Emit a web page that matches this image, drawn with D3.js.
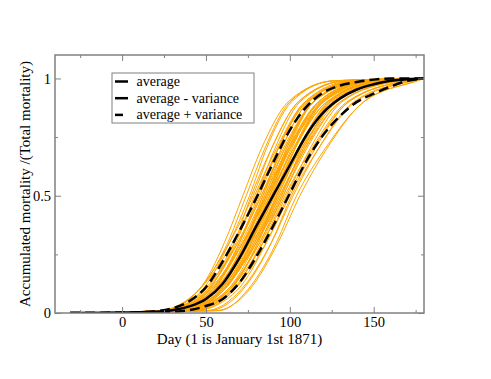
<!DOCTYPE html>
<html>
<head>
<meta charset="utf-8">
<script src="https://cdnjs.cloudflare.com/ajax/libs/d3/7.8.5/d3.min.js"></script>
<style>
  body { margin: 0; background: #fff; }
  svg text { font-family: "Liberation Serif", "Times New Roman", serif; fill: #000; }
  .tick line { stroke: #808080; stroke-width: 1; }
</style>
</head>
<body>
<script>
// ---- data ----
// black curves: value at each day
const days        = [-31, 0, 20, 30, 40, 50, 60, 70, 80, 90, 100, 110, 120, 130, 140, 150, 160, 170, 180];
const average     = [0, 0.001, 0.005, 0.012, 0.028, 0.06, 0.125, 0.235, 0.37, 0.5, 0.63, 0.76, 0.855, 0.915, 0.953, 0.975, 0.99, 0.997, 1];
const avgPlusVar  = [0, 0.001, 0.008, 0.02, 0.05, 0.11, 0.22, 0.35, 0.49, 0.64, 0.78, 0.88, 0.94, 0.97, 0.985, 0.995, 1, 1, 1];
const avgMinusVar = [0, 0, 0.002, 0.005, 0.012, 0.03, 0.06, 0.13, 0.24, 0.37, 0.51, 0.65, 0.76, 0.84, 0.9, 0.935, 0.965, 0.99, 1];

// orange runs: day at which each run reaches the given level
const runLevels = [0, 0.01, 0.1, 0.3, 0.5, 0.7, 0.9, 0.99, 1];
const runStart = -31, runEnd = 180;
const runs = [
  [24, 46, 61, 72, 83, 99, 126],
  [24, 46, 63, 74, 85, 100, 126],
  [27, 48, 64, 76, 86, 101, 126],
  [32, 52, 67, 77, 89, 105, 133],
  [24, 46, 64, 78, 89, 105, 132],
  [29, 51, 68, 79, 92, 109, 139],
  [25, 50, 67, 80, 91, 106, 133],
  [22, 46, 66, 80, 93, 110, 141],
  [33, 55, 70, 81, 93, 110, 140],
  [26, 51, 69, 82, 93, 109, 136],
  [31, 54, 70, 83, 96, 114, 145],
  [24, 49, 69, 83, 95, 111, 139],
  [34, 56, 73, 84, 97, 114, 144],
  [28, 53, 71, 84, 95, 111, 138],
  [29, 54, 72, 85, 97, 114, 143],
  [37, 59, 74, 85, 99, 118, 150],
  [27, 53, 72, 86, 98, 114, 142],
  [34, 57, 73, 86, 99, 117, 148],
  [31, 56, 73, 86, 100, 120, 154],
  [32, 57, 74, 87, 98, 114, 141],
  [26, 52, 72, 87, 100, 119, 151],
  [38, 60, 77, 88, 100, 117, 146],
  [32, 57, 75, 88, 102, 122, 156],
  [29, 55, 74, 88, 99, 114, 140],
  [34, 59, 76, 89, 102, 119, 149],
  [28, 55, 75, 89, 101, 117, 145],
  [38, 61, 77, 90, 103, 122, 154],
  [31, 57, 76, 90, 103, 120, 150],
  [34, 59, 77, 90, 105, 126, 160],
  [36, 61, 78, 91, 105, 124, 157],
  [27, 56, 76, 91, 103, 120, 149],
  [36, 61, 79, 92, 105, 123, 154],
  [42, 64, 81, 92, 107, 127, 162],
  [31, 58, 78, 92, 103, 119, 146],
  [34, 60, 79, 93, 106, 125, 157],
  [38, 63, 80, 93, 106, 123, 153],
  [33, 60, 80, 94, 108, 127, 160],
  [42, 65, 81, 94, 109, 130, 166],
  [39, 64, 82, 95, 108, 126, 157],
  [31, 60, 80, 95, 107, 124, 152],
  [37, 63, 82, 96, 110, 130, 164],
  [44, 67, 83, 96, 109, 128, 160],
  [41, 66, 84, 97, 113, 134, 170],
  [37, 64, 84, 98, 112, 131, 164],
  [44, 69, 86, 99, 114, 135, 170],
  [41, 67, 86, 100, 115, 135, 170],
  [52, 72, 89, 101, 117, 139, 174],
  [50, 71, 89, 102, 117, 138, 173],
  [58, 75, 92, 104, 121, 144, 176],
  [56, 76, 93, 106, 122, 144, 176]
];

const xMajor = [0, 50, 100, 150];
const xMinor = [-25, 25, 75, 125, 175];
const yMajor = [0, 0.5, 1];
const yMinor = [0.25, 0.75];
const legendLabels = ['average', 'average - variance', 'average + variance'];

// ---- layout ----
const W = 491, H = 379;
const margin = { top: 55, right: 67, bottom: 66, left: 55 };
const iw = W - margin.left - margin.right;
const ih = H - margin.top - margin.bottom;
const serif = '"Liberation Serif", "Times New Roman", serif';

const svg = d3.select('body').append('svg')
    .attr('width', W)
    .attr('height', H);

const g = svg.append('g')
    .attr('transform', `translate(${margin.left},${margin.top})`);

const x = d3.scaleLinear().domain([-40, 180]).range([0, iw]);
const y = d3.scaleLinear().domain([0, 1.1]).range([ih, 0]);

g.append('clipPath').attr('id', 'clip')
  .append('rect').attr('width', iw).attr('height', ih);

const line = d3.line()
    .x(d => x(d[0]))
    .y(d => y(d[1]))
    .curve(d3.curveMonotoneX);

const plot = g.append('g').attr('clip-path', 'url(#clip)');

// orange runs
plot.selectAll('.run')
  .data(runs.map(r => [runStart, ...r, runEnd].map((dd, i) => [dd, runLevels[i]])))
  .enter()
  .append('path')
    .attr('class', 'run')
    .attr('d', line)
    .attr('fill', 'none')
    .attr('stroke', '#ffa500')
    .attr('stroke-width', 1);

// black curves
const black = [
  { vals: avgMinusVar, dash: '10,5' },
  { vals: avgPlusVar, dash: '10,5' },
  { vals: average, dash: null }
];
plot.selectAll('.avg')
  .data(black)
  .enter()
  .append('path')
    .attr('class', 'avg')
    .attr('d', d => line(days.map((dd, i) => [dd, d.vals[i]])))
    .attr('fill', 'none')
    .attr('stroke', '#000')
    .attr('stroke-width', 2.5)
    .attr('stroke-dasharray', d => d.dash);

// ---- axes (ticks inside, mirrored) ----
function styleAxis(sel, showLabels) {
  sel.attr('font-family', serif);
  sel.select('.domain').remove();
  sel.selectAll('text')
    .attr('font-family', serif)
    .attr('font-size', 14.5)
    .attr('fill', '#000');
  if (!showLabels) sel.selectAll('text').remove();
}

g.append('g').attr('transform', `translate(0,${ih})`)
  .call(d3.axisBottom(x).tickValues(xMajor).tickSize(-6).tickPadding(4).tickFormat(d3.format('d')))
  .call(s => styleAxis(s, true));
g.append('g').attr('transform', `translate(0,${ih})`)
  .call(d3.axisBottom(x).tickValues(xMinor).tickSize(-3).tickFormat(''))
  .call(s => styleAxis(s, false));
g.append('g')
  .call(d3.axisTop(x).tickValues(xMajor).tickSize(-6))
  .call(s => styleAxis(s, false));
g.append('g')
  .call(d3.axisTop(x).tickValues(xMinor).tickSize(-3))
  .call(s => styleAxis(s, false));

g.append('g')
  .call(d3.axisLeft(y).tickValues(yMajor).tickSize(-6).tickPadding(4).tickFormat(d => d === 0.5 ? '0.5' : d3.format('d')(d)))
  .call(s => styleAxis(s, true));
g.append('g')
  .call(d3.axisLeft(y).tickValues(yMinor).tickSize(-3))
  .call(s => styleAxis(s, false));
g.append('g').attr('transform', `translate(${iw},0)`)
  .call(d3.axisRight(y).tickValues(yMajor).tickSize(-6))
  .call(s => styleAxis(s, false));
g.append('g').attr('transform', `translate(${iw},0)`)
  .call(d3.axisRight(y).tickValues(yMinor).tickSize(-3))
  .call(s => styleAxis(s, false));

// frame
g.append('rect')
    .attr('width', iw)
    .attr('height', ih)
    .attr('fill', 'none')
    .attr('stroke', '#808080')
    .attr('stroke-width', 1.5);

// axis titles
svg.append('text')
    .attr('x', margin.left + iw / 2)
    .attr('y', 344)
    .attr('text-anchor', 'middle')
    .attr('font-family', serif)
    .attr('font-size', 15)
    .text('Day (1 is January 1st 1871)');

svg.append('text')
    .attr('transform', `translate(30,${margin.top + ih / 2}) rotate(-90)`)
    .attr('text-anchor', 'middle')
    .attr('font-family', serif)
    .attr('font-size', 15)
    .text('Accumulated mortality /(Total mortality)');

// ---- legend ----
const legend = svg.append('g').attr('transform', 'translate(112,73)');
legend.append('rect')
    .attr('width', 142)
    .attr('height', 50)
    .attr('fill', '#fff')
    .attr('stroke', '#808080')
    .attr('stroke-width', 1);

const legendDash = [null, '14,5', '8,8'];
const rows = legend.selectAll('.lg')
  .data(legendLabels)
  .enter()
  .append('g')
    .attr('class', 'lg')
    .attr('transform', (d, i) => `translate(0,${8.5 + i * 16.7})`);
rows.append('line')
    .attr('x1', 3).attr('x2', 16)
    .attr('stroke', '#000')
    .attr('stroke-width', 2.5)
    .attr('stroke-dasharray', (d, i) => legendDash[i]);
rows.append('text')
    .attr('x', 24.5)
    .attr('y', 4.5)
    .attr('font-family', serif)
    .attr('font-size', 14)
    .text(d => d);
</script>
</body>
</html>
